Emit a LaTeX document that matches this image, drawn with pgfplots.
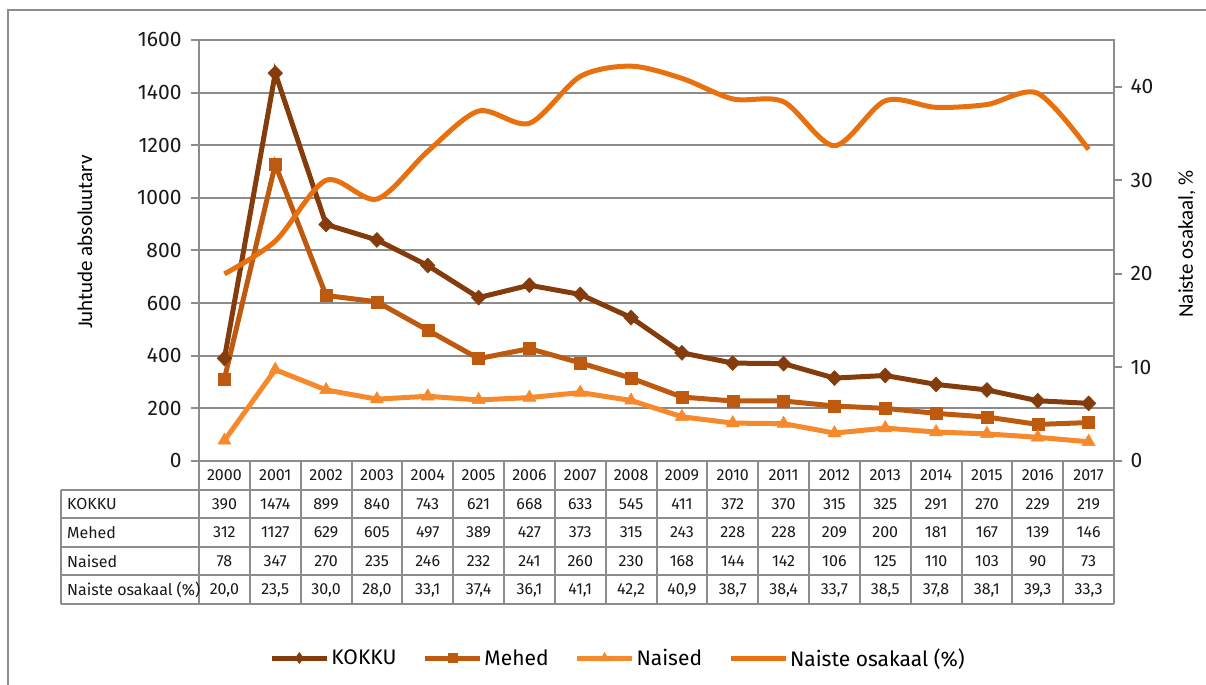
\documentclass[border=0pt]{standalone}
\usepackage{fontspec}
\setmainfont{Fira Sans}
\newfontfamily\titlefont{Carlito}
\usepackage{pgfplots}
\pgfplotsset{compat=1.18}
\usepackage{pgfplotstable}

\definecolor{cK}{HTML}{843C0C}
\definecolor{cM}{HTML}{BD5A10}
\definecolor{cN}{HTML}{F5892C}
\definecolor{cP}{HTML}{E8700F}
\definecolor{gridc}{HTML}{8C8C8C}

\pgfplotstableread{
x year K M N P
0 2000 390 312 78 20.0
1 2001 1474 1127 347 23.5
2 2002 899 629 270 30.0
3 2003 840 605 235 28.0
4 2004 743 497 246 33.1
5 2005 621 389 232 37.4
6 2006 668 427 241 36.1
7 2007 633 373 260 41.1
8 2008 545 315 230 42.2
9 2009 411 243 168 40.9
10 2010 372 228 144 38.7
11 2011 370 228 142 38.4
12 2012 315 209 106 33.7
13 2013 325 200 125 38.5
14 2014 291 181 110 37.8
15 2015 270 167 103 38.1
16 2016 229 139 90 39.3
17 2017 219 146 73 33.3
}\data

\begin{document}
\begin{tikzpicture}[x=1bp,y=1bp]
\useasboundingbox (0,0) rectangle (1206,685);
\draw[gridc, line width=1.5bp] (8,0) -- (8,675) -- (1206,675);

\pgfplotsset{
  common/.style={
    at={(199bp,224bp)}, anchor=south west, scale only axis,
    width=915bp, height=421bp,
    xmin=-0.5, xmax=17.5, xtick=\empty,
    axis line style={gridc, line width=2.5bp},
    tick align=outside, major tick length=8bp,
    tick style={gridc, line width=2bp},
    /pgf/number format/assume math mode=true,
    /pgf/number format/1000 sep={},
    yticklabel style={font=\fontsize{21bp}{25bp}\selectfont, text=black!90},
    label style={font=\titlefont\fontsize{21bp}{25bp}\selectfont},
  }
}

\begin{axis}[common,
  ymin=0, ymax=1600, ytick={0,200,...,1600},
  ytick pos=left,
  ymajorgrids, grid style={gridc, line width=2bp},
  yticklabel style={xshift=-6bp},
  ylabel={Juhtude absoluutarv},
  ylabel style={at={(axis description cs:-0.1246,0.52)}, anchor=center},
]
\addplot[cK, line width=5bp, mark=diamond*, mark size=7.5bp, mark options={solid, line width=0.5bp, xscale=1.3}] table[x=x,y=K]{\data};
\addplot[cM, line width=5bp, mark=square*, mark size=6bp, mark options={solid, line width=0.5bp}] table[x=x,y=M]{\data};
\addplot[cN, line width=5bp, mark=triangle*, mark size=7.5bp, mark options={solid, line width=0.5bp}] table[x=x,y=N]{\data};
\end{axis}

\begin{axis}[common,
  ymin=0, ymax=45, ytick={0,10,20,30,40},
  axis x line=none, axis y line*=right,
  yticklabel style={xshift=5bp},
  ylabel={Naiste osakaal, \%},
  ylabel style={at={(axis description cs:1.0798,0.515)}, anchor=center, rotate=0},
  legend columns=4,
  legend style={draw=none, fill=none, at={(0.458,-0.468)}, anchor=center,
    font=\fontsize{21bp}{25bp}\selectfont,
    /tikz/every even column/.append style={column sep=24bp},
    inner sep=0pt},
  legend image code/.code={\draw[#1, mark repeat=2, mark phase=2] plot coordinates {(0bp,0bp) (27.5bp,0bp) (55bp,0bp)};},
]
\addlegendimage{cK, line width=5bp, mark=diamond*, mark size=5.5bp, mark options={solid, line width=0.5bp}}
\addlegendentry{KOKKU}
\addlegendimage{cM, line width=5bp, mark=square*, mark size=4.5bp, mark options={solid, line width=0.5bp}}
\addlegendentry{Mehed}
\addlegendimage{cN, line width=5bp, mark=triangle*, mark size=5.5bp, mark options={solid, line width=0.5bp}}
\addlegendentry{Naised}
\addplot[cP, line width=5bp, smooth, tension=0.5, no markers] table[x=x,y=P]{\data};
\addlegendentry{Naiste osakaal (\%)}
\end{axis}

% data table under the chart
\def\cw{50.8333}
\foreach \i in {0,...,18} {
  \draw[gridc, line width=2bp] ({199+\cw*\i},224) -- ({199+\cw*\i},81);
}
\draw[gridc, line width=2bp] (61,195) -- (61,81);
\foreach \yy in {195,166.5,138,109.5,81} {
  \draw[gridc, line width=2bp] (61,\yy) -- (1114,\yy);
}
\begin{scope}[every node/.style={font=\fontsize{16bp}{19bp}\selectfont, text=black!90, inner sep=0pt}]
\node[anchor=west] at (67,181) {KOKKU};
\node[anchor=west] at (67,152.5) {Mehed};
\node[anchor=west] at (67,124) {Naised};
\node[anchor=west] at (67,95) {Naiste osakaal (\%)};
\foreach \i in {0,...,17} {
  \pgfplotstablegetelem{\i}{year}\of\data \let\vY\pgfplotsretval
  \pgfplotstablegetelem{\i}{K}\of\data \let\vK\pgfplotsretval
  \pgfplotstablegetelem{\i}{M}\of\data \let\vM\pgfplotsretval
  \pgfplotstablegetelem{\i}{N}\of\data \let\vN\pgfplotsretval
  \pgfplotstablegetelem{\i}{P}\of\data \let\vP\pgfplotsretval
  \pgfmathsetmacro\cx{199+\cw*\i+\cw/2}
  \node at (\cx,209.5) {\vY};
  \node at (\cx,181) {\vK};
  \node at (\cx,152.5) {\vM};
  \node at (\cx,124) {\vN};
  \node at (\cx,95) {\pgfmathprintnumber[fixed, fixed zerofill, precision=1, use comma, assume math mode=true]{\vP}};
}
\end{scope}
\end{tikzpicture}
\end{document}
